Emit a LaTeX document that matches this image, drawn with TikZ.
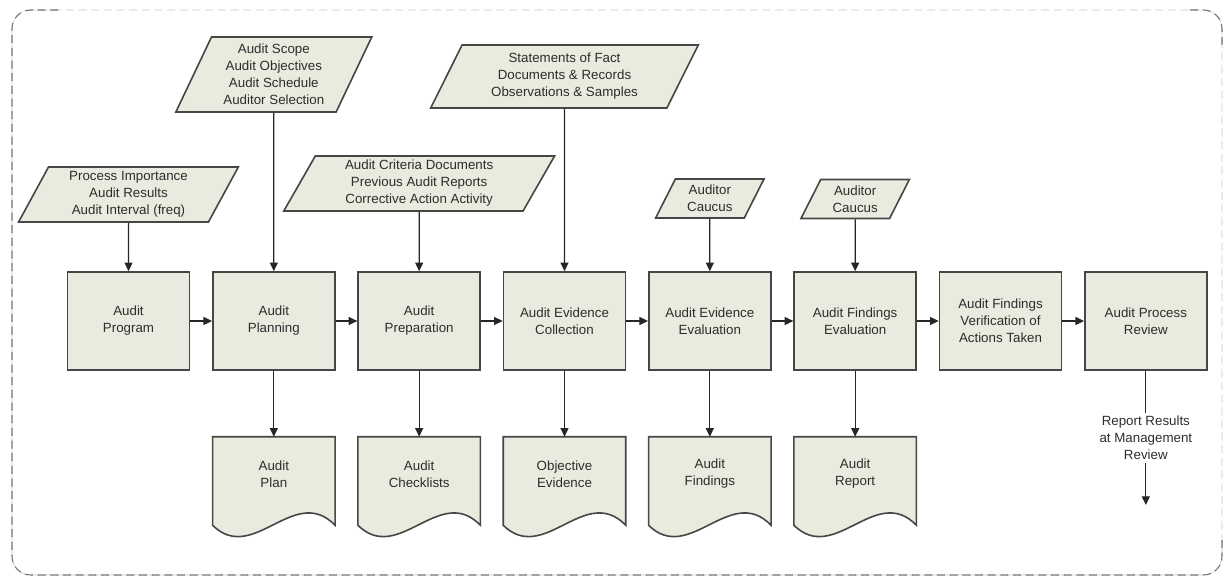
\documentclass[tikz,border=0pt]{standalone}
\usepackage{fontspec}
\setmainfont{Liberation Sans}
\usetikzlibrary{positioning,shapes.geometric,arrows.meta,backgrounds,calc}
\definecolor{boxfill}{RGB}{233,235,222}
\definecolor{boxline}{RGB}{70,70,70}
\definecolor{textgray}{RGB}{45,45,45}
\tikzset{
  stepbox/.style={rectangle,draw=boxline,fill=boxfill,line width=1.2pt,minimum width=91.5pt,minimum height=73.5pt,align=center,inner sep=2pt},
  docbox/.style={rectangle,minimum width=91.5pt,minimum height=55.5pt,align=center,inner sep=2pt},
  inbox/.style={trapezium,trapezium left angle=65,trapezium right angle=115,trapezium stretches=true,draw=boxline,fill=boxfill,line width=1.2pt,align=center,inner sep=1pt},
  docline/.style={draw=boxline,fill=boxfill,line width=1.2pt},
  link/.style={line width=0.9pt,draw=black!85},
  flow/.style={link,-{Triangle[length=6.5pt,width=6pt]}},
  frame/.style={draw=black!55,line width=0.8pt,dash pattern=on 6pt off 3.5pt},
}
\begin{document}
\begin{tikzpicture}[x=0.75pt, y=-0.75pt, node distance=109pt, text=textgray, font=\fontsize{10}{12.75}\selectfont]
\useasboundingbox (0,0) rectangle (1224,577);

% dashed frame
\draw[frame,draw=black!12,rounded corners=14pt] (12,10) rectangle (1222,575);
\draw[frame,rounded corners=14pt] (1222,540) |- (12,575) |- (60,10);
\draw[frame,rounded corners=14pt] (1190,10) -| (1222,45);

% process row
\node[stepbox] (program) at (128.5,321) {Audit\\Program};
\node[stepbox,right of=program] (planning) {Audit\\Planning};
\node[stepbox,right of=planning] (preparation) {Audit\\Preparation};
\node[stepbox,right of=preparation] (collection) {Audit Evidence\\Collection};
\node[stepbox,right of=collection] (evaluation) {Audit Evidence\\Evaluation};
\node[stepbox,right of=evaluation] (findeval) {Audit Findings\\Evaluation};
\node[stepbox,right of=findeval] (verification) {Audit Findings\\Verification of\\Actions Taken};
\node[stepbox,right of=verification] (review) {Audit Process\\Review};

% inputs
\node[inbox,above of=program,node distance=94.9pt,minimum width=165pt,minimum height=41.25pt] (importance) {Process Importance\\Audit Results\\Audit Interval (freq)};
\node[inbox,above of=planning,node distance=184.9pt,minimum width=147pt,minimum height=56.25pt] (scope) {Audit Scope\\Audit Objectives\\Audit Schedule\\Auditor Selection};
\node[inbox,above of=preparation,node distance=103.1pt,minimum width=203.25pt,minimum height=41.25pt] (criteria) {Audit Criteria Documents\\Previous Audit Reports\\Corrective Action Activity};
\node[inbox,above of=collection,node distance=183.4pt,minimum width=201pt,minimum height=47.25pt] (facts) {Statements of Fact\\Documents \& Records\\Observations \& Samples};
\node[inbox,above of=evaluation,node distance=91.9pt,minimum width=81.75pt,minimum height=29.25pt] (caucus) {Auditor\\Caucus};
\node[inbox,above of=findeval,node distance=91.5pt,minimum width=81.75pt,minimum height=29.25pt] (caucus2) {Auditor\\Caucus};

% outputs
\node[docbox,below of=planning,node distance=114.75pt] (plan) {Audit\\Plan};
\node[docbox,below of=preparation,node distance=114.75pt] (checklists) {Audit\\Checklists};
\node[docbox,below of=collection,node distance=114.75pt] (evidence) {Objective\\Evidence};
\node[docbox,below of=evaluation,node distance=114.75pt] (findings) {Audit\\Findings};
\node[docbox,below of=findeval,node distance=114.75pt] (report) {Audit\\Report};
\node[below of=review,node distance=87.75pt,align=center,inner sep=2pt] (mgmt) {Report Results\\at Management\\Review};
\coordinate[below of=review,node distance=138pt] (mgmtend);

\begin{scope}[on background layer]
\foreach \d in {plan,checklists,evidence,findings,report}
  \filldraw[docline] (\d.north west) -- (\d.north east) -- ($(\d.south east)+(0,14)$)
    .. controls +(-40.7,-42) and +(40.7,40) .. ($(\d.south west)+(0,14)$) -- cycle;
\end{scope}

% connectors
\foreach \a/\b in {program/planning,planning/preparation,preparation/collection,collection/evaluation,evaluation/findeval,findeval/verification,verification/review}
  \draw[flow] (\a) -- (\b);
\foreach \a/\b in {importance/program,scope/planning,criteria/preparation,facts/collection,caucus/evaluation,caucus2/findeval}
  \draw[flow] (\a) -- (\b);
\foreach \a/\b in {planning/plan,preparation/checklists,collection/evidence,evaluation/findings,findeval/report}
  \draw[flow] (\a) -- (\b);
\draw[link] (review) -- (mgmt);
\draw[flow] (mgmt) -- (mgmtend);
\end{tikzpicture}
\end{document}
